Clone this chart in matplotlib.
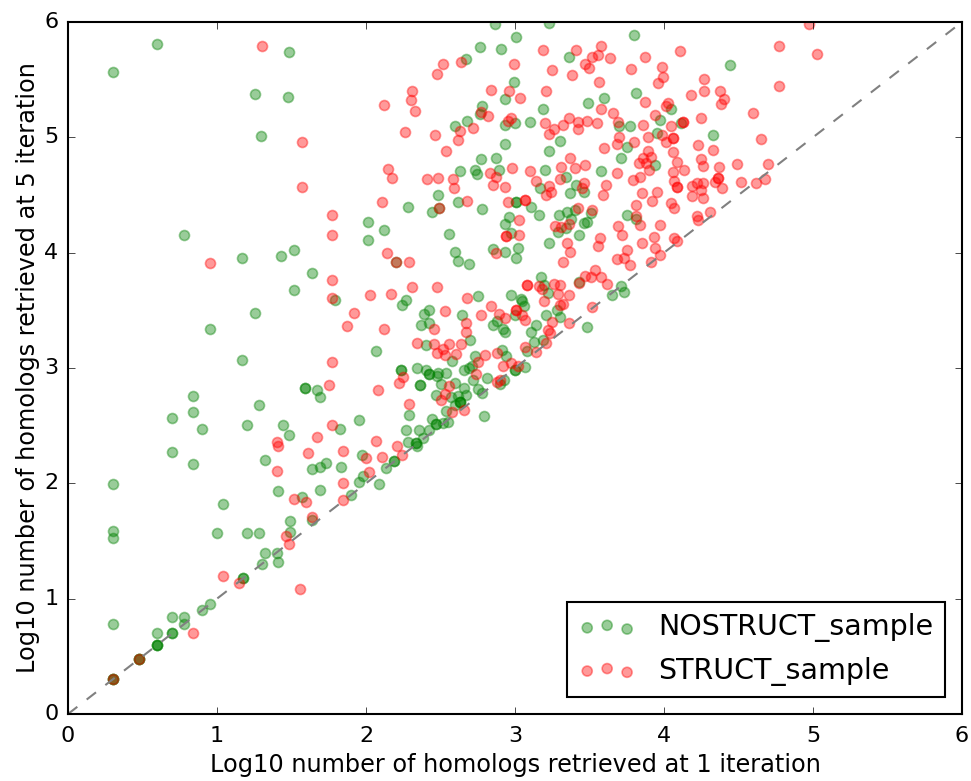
import matplotlib
matplotlib.use("Agg")
import matplotlib.pyplot as plt

# (log10 hits at iteration 1, log10 hits at iteration 5)
nostruct_sample = [
    (0.30, 0.30), (0.30, 0.30), (0.30, 0.30), (0.477, 0.477), (0.477, 0.477), (0.477, 0.477),
    (0.60, 0.60), (0.60, 0.60), (0.60, 0.60), (0.70, 0.70), (0.70, 0.70), (0.60, 0.70),
    (0.30, 0.78), (0.78, 0.78), (0.70, 0.84), (0.78, 0.84), (0.90, 0.90), (0.95, 0.95),
    (1.175, 1.175), (1.175, 1.175), (1.30, 1.30), (1.41, 1.32), (1.32, 1.395), (1.40, 1.395),
    (1.49, 1.58), (1.49, 1.67), (1.64, 1.68), (1.00, 1.57), (1.20, 1.57), (1.28, 1.57),
    (0.30, 1.53), (0.30, 1.59), (0.30, 1.99), (1.04, 1.82), (1.41, 1.93), (1.69, 1.94),
    (1.57, 1.88), (1.90, 1.895), (1.95, 2.01), (1.98, 2.06), (2.085, 1.99), (1.83, 2.14),
    (1.64, 2.125), (1.69, 2.145), (1.73, 2.175), (1.97, 2.245), (1.32, 2.20), (0.84, 2.17),
    (0.70, 2.27), (1.48, 2.42), (1.445, 2.51), (1.20, 2.51), (0.90, 2.47), (0.70, 2.57),
    (0.84, 2.62), (0.84, 2.76), (1.28, 2.68), (1.825, 2.47), (1.95, 2.55), (1.69, 2.75),
    (1.67, 2.81), (1.59, 2.83), (1.59, 2.83), (1.17, 3.07), (2.07, 3.15), (0.95, 3.34),
    (1.255, 3.48), (1.52, 3.68), (1.79, 3.59), (1.64, 3.82), (1.17, 3.95), (1.43, 3.97),
    (1.52, 4.02), (0.78, 4.15), (1.295, 5.01), (1.475, 5.35), (1.255, 5.375), (1.48, 5.74),
    (0.30, 5.57), (0.60, 5.81), (2.135, 2.135), (2.19, 2.19), (2.19, 2.19), (2.345, 2.325),
    (2.335, 2.35), (2.335, 2.35), (2.285, 2.355), (2.385, 2.39), (2.27, 2.465), (2.355, 2.46),
    (2.42, 2.46), (2.47, 2.515), (2.47, 2.515), (2.52, 2.52), (2.55, 2.53), (2.445, 2.555),
    (2.29, 2.59), (2.79, 2.58), (2.54, 2.63), (2.60, 2.68), (2.63, 2.705), (2.63, 2.705),
    (2.63, 2.705), (2.57, 2.745), (2.62, 2.755), (2.67, 2.765), (2.47, 2.77), (2.78, 2.785),
    (2.75, 2.82), (2.66, 2.83), (2.36, 2.85), (2.36, 2.85), (2.60, 2.87), (2.50, 2.865),
    (2.90, 2.86), (2.72, 2.895), (2.925, 2.90), (2.81, 2.91), (2.475, 2.93), (2.42, 2.945),
    (2.42, 2.945), (2.48, 2.96), (2.54, 2.96), (2.40, 2.985), (2.235, 2.985), (2.235, 2.985),
    (2.34, 3.00), (2.66, 2.98), (2.69, 3.00), (2.71, 3.015), (3.00, 2.985), (3.00, 2.985),
    (3.07, 3.01), (2.575, 3.06), (2.73, 3.10), (2.94, 3.10), (2.91, 3.155),
    (3.08, 3.15), (2.40, 3.20), (2.70, 3.24), (3.13, 3.225), (3.19, 3.24), (2.93, 3.31),
    (2.92, 3.34), (3.11, 3.31), (3.14, 3.37), (2.855, 3.375), (2.88, 3.405), (3.48, 3.355),
    (2.37, 3.37), (2.42, 3.39), (2.39, 3.47), (2.42, 3.50), (2.645, 3.46), (3.00, 3.46),
    (3.21, 3.46), (3.30, 3.445), (3.28, 3.50), (3.06, 3.535), (3.05, 3.58), (3.04, 3.60),
    (2.24, 3.55), (2.27, 3.59), (2.75, 3.62), (2.97, 3.63), (3.22, 3.65), (3.65, 3.63),
    (3.73, 3.66), (3.71, 3.715), (3.195, 3.72), (3.43, 3.75), (3.175, 3.79), (2.69, 3.90),
    (2.62, 3.925), (2.20, 3.915), (3.01, 3.95), (2.60, 4.005), (2.85, 4.03),
    (2.93, 4.01), (3.02, 4.04), (3.23, 4.085), (2.015, 4.11), (2.12, 4.195), (2.015, 4.27),
    (2.555, 4.165), (2.97, 4.17), (2.93, 4.25), (2.96, 4.31), (3.29, 4.18), (3.34, 4.21),
    (3.43, 4.155), (3.46, 4.26), (3.485, 4.265), (3.375, 4.29), (3.295, 4.33), (3.35, 4.35),
    (3.40, 4.37), (3.51, 4.34), (3.16, 4.33), (3.11, 4.395), (3.01, 4.44), (3.01, 4.44),
    (2.78, 4.38), (2.615, 4.44), (2.49, 4.385), (2.445, 4.355), (2.285, 4.395), (2.48, 4.50),
    (3.75, 4.33), (3.81, 4.29), (3.37, 4.515), (3.465, 4.53), (3.17, 4.56), (3.41, 4.585),
    (3.34, 4.655), (3.58, 4.705), (3.94, 4.76), (3.20, 4.72), (2.89, 4.715), (2.745, 4.68),
    (2.73, 4.72), (2.63, 4.71), (2.775, 4.815), (2.87, 4.82), (3.71, 4.82), (3.75, 4.915),
    (3.225, 4.885), (3.305, 4.97), (2.935, 4.945), (3.95, 5.035), (3.70, 5.10), (3.77, 5.10),
    (3.10, 5.13), (3.00, 5.12), (2.93, 5.11), (2.60, 5.10), (2.68, 5.14), (2.765, 5.20),
    (2.78, 5.27), (3.19, 5.25), (3.49, 5.30), (3.595, 5.34), (2.93, 5.33), (3.81, 5.385),
    (2.99, 5.48), (2.67, 5.68), (3.365, 5.70), (2.765, 5.78), (2.905, 5.77), (3.01, 5.87),
    (3.80, 5.885), (2.865, 5.98), (3.225, 5.99), (4.05, 5.245), (3.975, 5.15), (4.115, 5.12),
    (4.33, 5.02), (4.44, 5.63),
]

struct_sample = [
    (0.30, 0.30), (0.477, 0.477), (0.84, 0.70), (1.04, 1.20), (1.15, 1.14), (1.555, 1.08),
    (1.48, 1.475), (1.46, 1.54), (1.64, 1.71), (1.52, 1.86), (1.60, 1.835), (1.845, 1.855),
    (1.845, 2.00), (2.02, 2.10), (1.40, 2.11), (2.00, 2.22), (2.105, 2.23), (1.61, 2.26),
    (1.845, 2.28), (1.41, 2.32), (1.40, 2.36), (2.07, 2.37), (1.67, 2.40), (1.775, 2.51),
    (2.08, 2.81), (1.755, 2.85), (1.77, 3.055), (2.21, 2.32),
    (2.24, 2.245), (2.03, 3.63), (2.165, 3.64), (2.31, 3.70), (2.475, 3.70), (2.675, 3.61),
    (1.92, 3.48), (1.87, 3.36), (2.12, 3.34), (2.53, 3.49), (2.84, 3.535), (2.77, 3.46),
    (2.89, 3.47), (2.93, 3.43), (2.67, 3.39), (2.67, 3.31), (2.455, 3.335), (2.34, 3.215),
    (2.455, 3.21), (2.56, 3.21), (2.64, 3.21), (2.52, 3.165), (2.475, 3.13), (2.53, 3.115),
    (2.605, 3.12), (2.80, 3.115), (2.88, 3.13), (2.75, 3.05), (2.92, 3.015), (2.97, 3.045),
    (3.02, 3.02), (2.25, 2.92), (2.22, 2.87), (2.74, 2.945), (2.56, 2.84),
    (2.53, 2.775), (2.50, 2.72), (2.29, 2.69), (2.58, 2.615), (2.66, 2.635), (2.88, 2.875),
    (2.90, 2.90), (3.08, 3.72), (3.08, 3.72), (3.16, 3.71), (3.18, 3.685), (3.26, 3.725),
    (3.30, 3.72), (3.29, 3.64), (3.36, 3.63), (3.195, 3.585), (3.43, 3.74), (3.47, 3.80),
    (3.51, 3.785), (3.58, 3.79), (3.54, 3.85), (3.62, 3.73), (3.01, 3.505), (3.01, 3.505),
    (3.05, 3.46), (3.07, 3.42), (3.30, 3.55), (3.32, 3.555), (3.52, 3.53), (3.36, 3.39),
    (3.25, 3.40), (3.22, 3.33), (3.235, 3.30), (3.21, 3.215), (3.14, 3.14), (3.07, 3.18),
    (3.185, 5.76), (3.41, 5.755), (3.58, 5.795), (3.52, 5.70), (3.555, 5.71), (3.64, 5.69),
    (3.87, 5.70), (2.52, 5.635), (2.64, 5.65), (2.995, 5.635), (3.47, 5.635), (3.495, 5.605),
    (3.245, 5.58), (3.38, 5.54), (3.78, 5.59), (2.475, 5.545), (3.565, 5.48),
    (3.96, 5.475), (2.84, 5.41), (2.96, 5.40), (3.035, 5.34), (3.205, 5.405), (2.31, 5.40),
    (2.30, 5.32), (2.33, 5.23), (2.12, 5.28), (3.87, 5.31), (3.58, 5.25), (3.66, 5.21),
    (3.94, 5.19), (2.77, 5.22), (2.82, 5.185), (2.97, 5.17), (2.95, 5.145), (2.72, 5.08),
    (2.63, 5.055), (2.615, 4.98), (2.265, 5.05), (2.46, 5.02), (2.54, 4.885), (3.20, 5.12),
    (3.36, 5.17), (3.32, 5.11), (3.26, 5.07), (3.225, 5.03), (3.42, 5.135), (3.42, 5.075),
    (3.48, 5.14), (3.55, 5.12), (3.69, 5.135), (3.86, 5.11), (3.895, 5.00),
    (3.70, 5.00), (3.685, 4.945), (3.80, 4.96), (3.595, 4.91), (3.895, 4.885), (3.86, 4.82),
    (3.91, 4.83), (3.83, 4.775), (3.88, 4.775), (3.90, 4.72), (3.37, 4.82), (3.47, 4.76),
    (3.31, 4.745), (3.40, 4.73), (2.98, 4.735), (3.10, 4.71), (3.685, 4.69), (2.83, 4.69),
    (2.87, 4.655), (2.85, 4.59), (2.93, 4.57), (2.15, 4.725), (2.175, 4.65), (2.41, 4.64),
    (2.48, 4.65), (2.585, 4.64), (2.59, 4.56), (3.14, 4.62), (3.305, 4.64), (3.79, 4.63),
    (3.84, 4.655), (3.23, 4.58), (3.46, 4.60), (3.45, 4.565), (3.61, 4.585), (3.24, 4.525),
    (3.21, 4.50), (3.59, 4.50), (3.85, 4.515), (3.95, 4.53), (3.92, 4.45), (2.11, 4.44),
    (2.68, 4.445), (2.95, 4.44), (3.07, 4.455), (3.07, 4.455), (3.42, 4.39), (3.52, 4.37),
    (3.81, 4.41), (3.81, 4.32), (3.025, 4.28), (3.84, 4.24), (3.69, 4.23), (3.97, 4.24),
    (3.27, 4.23), (3.31, 4.22), (3.36, 4.25), (3.72, 4.15), (3.93, 4.14), (3.57, 4.13),
    (3.03, 4.15), (2.94, 4.145), (2.94, 4.145), (3.56, 4.06), (3.35, 4.08), (3.85, 4.08),
    (3.94, 4.04), (3.75, 4.02), (3.37, 4.01), (2.87, 4.00), (2.14, 4.00), (3.685, 3.945),
    (3.73, 3.955), (3.32, 3.915), (3.77, 3.89), (3.91, 3.92), (2.29, 3.915), (2.20, 3.915),
    (2.49, 4.385), (4.97, 5.98), (4.775, 5.795),
    (5.03, 5.72), (4.11, 5.75), (3.985, 5.61), (3.99, 5.52), (4.27, 5.51),
    (4.27, 5.405), (4.18, 5.37), (4.375, 5.405), (4.40, 5.33), (4.385, 5.285), (4.77, 5.445),
    (4.03, 5.30), (4.015, 5.27), (4.60, 5.21), (4.25, 5.17), (4.05, 5.10), (4.13, 5.13),
    (4.13, 5.13), (3.985, 5.02), (4.06, 4.99), (4.06, 4.99), (4.015, 4.96), (4.65, 4.985),
    (4.23, 4.93), (4.33, 4.89), (4.06, 4.875), (4.085, 4.79), (4.25, 4.81), (4.26, 4.75),
    (4.49, 4.77), (4.70, 4.77), (4.37, 4.74), (4.135, 4.72), (4.06, 4.70), (4.365, 4.65),
    (4.365, 4.65), (4.34, 4.61), (4.065, 4.62), (4.09, 4.57), (4.09, 4.57), (4.185, 4.58),
    (4.22, 4.60), (4.26, 4.60), (4.25, 4.54), (4.39, 4.56), (4.515, 4.615), (4.675, 4.64),
    (4.62, 4.60), (4.19, 4.49), (4.26, 4.475), (4.05, 4.43), (4.07, 4.39), (4.22, 4.32),
    (4.23, 4.28), (4.31, 4.355), (4.07, 4.13), (4.09, 4.105), (3.97, 3.98), (1.30, 5.79),
    (1.57, 4.96), (1.57, 4.57), (0.95, 3.91), (1.77, 4.33), (1.77, 4.15), (1.77, 3.76),
    (1.77, 3.61),
]

axis_max = 6
x_label = "Log10 number of homologs retrieved at 1 iteration"
y_label = "Log10 number of homologs retrieved at 5 iteration"

plt.style.use("classic")
plt.rcParams["font.family"] = "DejaVu Sans"

fig = plt.figure(figsize=(9.71, 7.81), dpi=100, facecolor="white")
ax = fig.add_axes([68 / 971, 1 - 714 / 781, 894 / 971, 692 / 781])

x1, y1 = zip(*nostruct_sample)
x2, y2 = zip(*struct_sample)
ax.scatter(x1, y1, s=52, color="green", alpha=0.4, linewidths=1.2, label="NOSTRUCT_sample")
ax.scatter(x2, y2, s=52, color="red", alpha=0.4, linewidths=1.2, label="STRUCT_sample")
ax.plot([0, axis_max], [0, axis_max], color="gray", linestyle="--", linewidth=1.5, dashes=(8.5, 8.5))

ax.set_xlim(0, axis_max)
ax.set_ylim(0, axis_max)
ax.set_xlabel(x_label, fontsize=17.3, labelpad=5)
ax.set_ylabel(y_label, fontsize=17.3, labelpad=3)
ax.tick_params(labelsize=16, length=5)
ax.tick_params(axis="x", pad=9)
ax.tick_params(axis="y", pad=7)
for spine in ax.spines.values():
    spine.set_linewidth(1.5)

leg = ax.legend(loc="lower right", fontsize=20.5, scatterpoints=3, borderaxespad=0.6)
leg.get_frame().set_linewidth(1.5)

fig.savefig("out.png", dpi=100, facecolor="white")
